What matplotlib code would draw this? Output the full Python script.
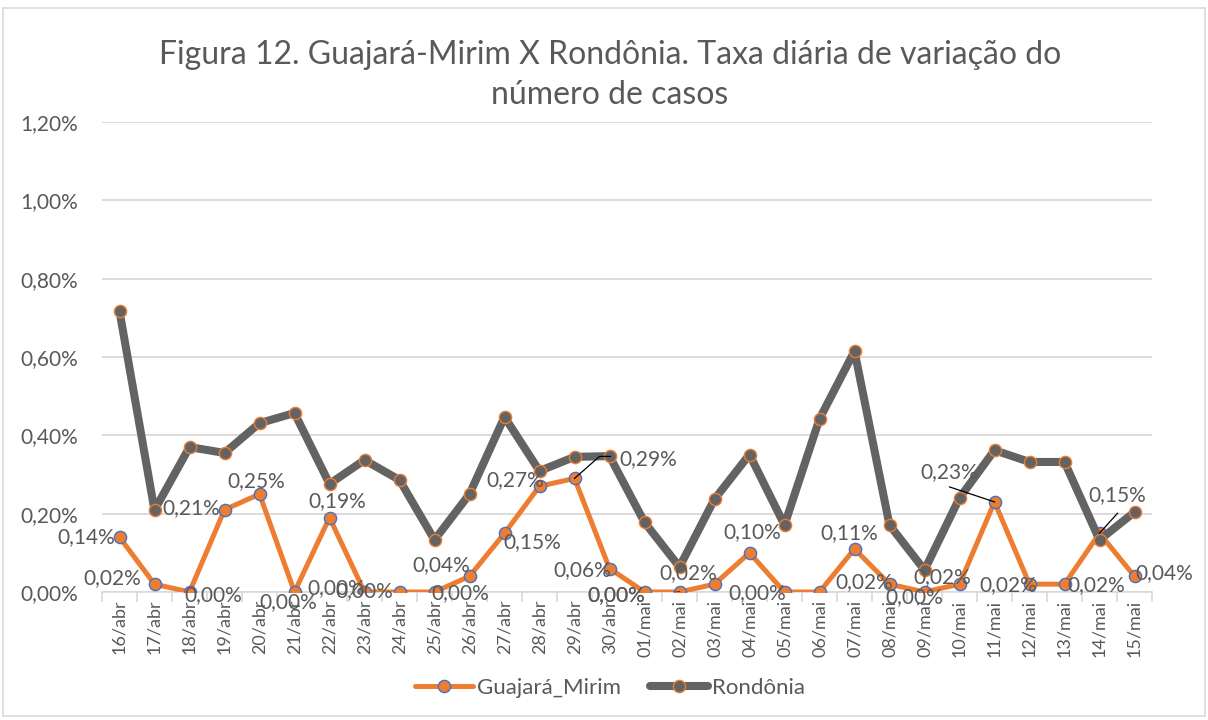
import matplotlib.pyplot as plt
from matplotlib.patches import Rectangle
from matplotlib.ticker import FuncFormatter, FixedLocator

# Dados (taxa diária de variação, em %)
datas = ['16/abr', '17/abr', '18/abr', '19/abr', '20/abr', '21/abr', '22/abr', '23/abr',
         '24/abr', '25/abr', '26/abr', '27/abr', '28/abr', '29/abr', '30/abr', '01/mai',
         '02/mai', '03/mai', '04/mai', '05/mai', '06/mai', '07/mai', '08/mai', '09/mai',
         '10/mai', '11/mai', '12/mai', '13/mai', '14/mai', '15/mai']

guajara_mirim = [0.14, 0.02, 0.00, 0.21, 0.25, 0.00, 0.19, 0.00, 0.00, 0.00,
                 0.04, 0.15, 0.27, 0.29, 0.06, 0.00, 0.00, 0.02, 0.10, 0.00,
                 0.00, 0.11, 0.02, 0.00, 0.02, 0.23, 0.02, 0.02, 0.15, 0.04]

rondonia = [0.717, 0.209, 0.370, 0.355, 0.431, 0.457, 0.276, 0.337, 0.286, 0.133,
            0.250, 0.447, 0.309, 0.345, 0.347, 0.178, 0.064, 0.237, 0.351, 0.171,
            0.442, 0.615, 0.171, 0.056, 0.240, 0.362, 0.332, 0.332, 0.133, 0.204]

# Posição dos rótulos (deslocamento em pixels a partir do ponto); None = oculto
offsets_rotulos = [(-33, 0), (-42, 6), (24, -3), (-33, 2), (-3, 13), (-6, -10), (8, 16),
                   (-28, 4), (-35, 1), (26, -1), (-28, 11), (28, -9), (-24, 6), (74, 19),
                   (-27, -2), (-28, -3), (-63, -3), (-26, 11), (3, 21), (-27, -1), None,
                   (-5, 16), (-25, 2), (-10, -5), (-17, 7), (-45, 30), (-21, -1), (32, -1),
                   (18, 38), (30, 3)]

COR_TEXTO = '#595959'
LARANJA = '#ED7D31'
AZUL = '#4472C4'
CINZA = '#636363'
GRADE = '#D9D9D9'

plt.rcParams['font.family'] = ['Lato', 'DejaVu Sans']

fig = plt.figure(figsize=(12.08, 7.2), dpi=100)
ax = fig.add_axes([102 / 1208, 1 - 592 / 720, 1050 / 1208, 470 / 720])

# Moldura do gráfico
fig.patches.append(Rectangle((3 / 1208, 4 / 720), 1202 / 1208, 708 / 720,
                             transform=fig.transFigure, fill=False,
                             edgecolor=GRADE, linewidth=1.2))

x = list(range(len(datas)))

l1, = ax.plot(x, guajara_mirim, color=LARANJA, linewidth=3.6, marker='o',
              markersize=8.8, markerfacecolor=LARANJA, markeredgecolor=AZUL,
              markeredgewidth=1.0, label='Guajará_Mirim', zorder=3,
              solid_capstyle='round', solid_joinstyle='round')
l2, = ax.plot(x, rondonia, color=CINZA, linewidth=5.8, marker='o',
              markersize=8.8, markerfacecolor=CINZA, markeredgecolor=LARANJA,
              markeredgewidth=1.0, label='Rondônia', zorder=4,
              solid_capstyle='round', solid_joinstyle='round')

ax.set_xlim(-0.5, len(datas) - 0.5)
ax.set_ylim(0, 1.2)

# Rótulos de dados
for i, (v, off) in enumerate(zip(guajara_mirim, offsets_rotulos)):
    if off is None:
        continue
    ax.annotate(f'{v:.2f}%'.replace('.', ','), (i, v), xytext=off,
                textcoords='offset pixels', ha='center', va='center',
                fontsize=15, color=COR_TEXTO, zorder=6)


def chamada(i, v, pts):
    # linha de chamada entre o rótulo e o ponto (deslocamentos em pixels)
    px, py = ax.transData.transform((i, v))
    inv = ax.transData.inverted()
    data = [inv.transform((px + dx, py + dy)) for dx, dy in pts]
    ax.plot([d[0] for d in data], [d[1] for d in data], color='black',
            linewidth=0.9, zorder=5)


chamada(13, guajara_mirim[13], [(0, 0), (25, 22), (36, 22)])
chamada(16, guajara_mirim[16], [(-31, -3), (0, 0)])
chamada(25, guajara_mirim[25], [(-45, 15), (0, 0)])
chamada(28, guajara_mirim[28], [(18, 20), (0, 0)])

# Eixos
ax.set_yticks([0, 0.2, 0.4, 0.6, 0.8, 1.0, 1.2])
ax.yaxis.set_major_formatter(FuncFormatter(lambda v, p: f'{v:.2f}%'.replace('.', ',')))
ax.grid(axis='y', color=GRADE, linewidth=1.3)
ax.set_axisbelow(True)
ax.tick_params(axis='y', length=0, pad=17, labelsize=15, labelcolor=COR_TEXTO)

ax.set_xticks(x)
ax.set_xticklabels(datas, rotation=90)
ax.xaxis.set_minor_locator(FixedLocator([i - 0.5 for i in range(len(datas) + 1)]))
ax.tick_params(axis='x', which='major', length=0, pad=5.5, labelsize=13,
               labelcolor=COR_TEXTO)
ax.tick_params(axis='x', which='minor', length=7, width=1.2, color=GRADE)

for lado in ['top', 'right', 'left']:
    ax.spines[lado].set_visible(False)
ax.spines['bottom'].set_color(GRADE)
ax.spines['bottom'].set_linewidth(1.2)

fig.text(0.505, 1 - 75 / 720,
         'Figura 12. Guajará-Mirim X Rondônia. Taxa diária de variação do\nnúmero de casos',
         ha='center', va='center', fontsize=23, color=COR_TEXTO, linespacing=1.4)

fig.legend(handles=[l1, l2], loc='center', bbox_to_anchor=(0.505, 1 - 688 / 720),
           ncol=2, frameon=False, fontsize=16, labelcolor=COR_TEXTO,
           handlelength=2.6, columnspacing=1.3, handletextpad=0.2)

fig.savefig('out.png', dpi=100)
